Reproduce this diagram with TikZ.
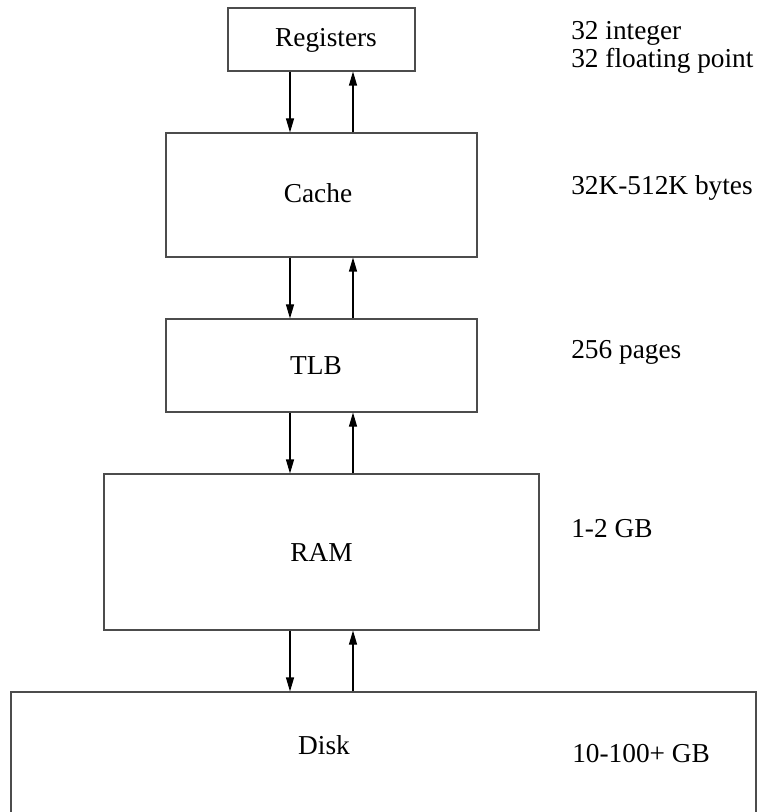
\documentclass[tikz,border=0pt]{standalone}
\usepackage{fontspec}
\setmainfont{Liberation Serif}
\usetikzlibrary{arrows.meta}
\begin{document}
\begin{tikzpicture}[x=0.75pt,y=-0.75pt,
  box/.style={draw=black!70,line width=0.8pt,rectangle,inner sep=0pt},
  lbl/.style={inner sep=0pt,anchor=base,font=\fontsize{20.5}{21}\selectfont},
  note/.style={inner sep=0pt,anchor=base west,font=\fontsize{20.5}{21}\selectfont},
  arr/.style={draw=black,line width=0.8pt,-{Triangle[length=10.5pt,width=6pt]}}]
\useasboundingbox (0,0) rectangle (762,812);
\clip (0,0) rectangle (762,812);
% boxes
\node[box,minimum width={187*0.75pt},minimum height={63*0.75pt}] (reg) at (321.5,39.5) {};
\node[box,minimum width={311*0.75pt},minimum height={124*0.75pt}] (cache) at (321.5,195) {};
\node[box,minimum width={311*0.75pt},minimum height={93*0.75pt}] (tlb) at (321.5,365.5) {};
\node[box,minimum width={435*0.75pt},minimum height={156*0.75pt}] (ram) at (321.5,552) {};
\node[box,minimum width={745*0.75pt},minimum height={138*0.75pt}] (disk) at (383.5,761) {};
% box texts
\node[lbl] (tReg) at (326,47) {Registers};
\node[lbl] (tCache) at (318,203) {Cache};
\node[lbl] (tTlb) at (316,374) {TLB};
\node[lbl] (tRam) at (321.5,561) {RAM};
\node[lbl] (tDisk) at (324,754) {Disk};
% arrow columns
\coordinate (xd) at (290,0);
\coordinate (xu) at (353,0);
\draw[arr] (reg.south -| xd) -- (cache.north -| xd);
\draw[arr] (cache.north -| xu) -- (reg.south -| xu);
\draw[arr] (cache.south -| xd) -- (tlb.north -| xd);
\draw[arr] (tlb.north -| xu) -- (cache.south -| xu);
\draw[arr] (tlb.south -| xd) -- (ram.north -| xd);
\draw[arr] (ram.north -| xu) -- (tlb.south -| xu);
\draw[arr] (ram.south -| xd) -- (disk.north -| xd);
\draw[arr] (disk.north -| xu) -- (ram.south -| xu);
% side notes
\node[note] (n1) at (571,40) {32 integer};
\node[note] (n2) at (571,68) {32 floating point};
\node[note] (n3) at (571,195) {32K-512K bytes};
\node[note] (n4) at (571,358) {256 pages};
\node[note] (n5) at (571,537) {1-2 GB};
\node[note] (n6) at (572,762) {10-100+ GB};
\end{tikzpicture}
\end{document}
